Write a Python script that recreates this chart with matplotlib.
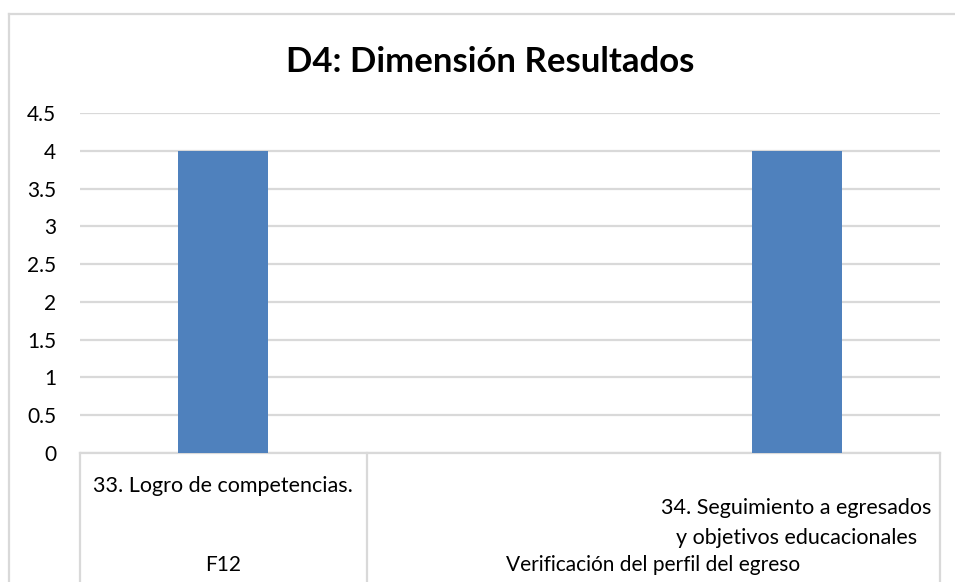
import numpy as np
import matplotlib
matplotlib.use("Agg")
import matplotlib.pyplot as plt
from matplotlib.transforms import blended_transform_factory

plt.rcParams['font.family'] = ['Lato', 'DejaVu Sans']

# data
items = ["33. Logro de competencias.", "", "34. Seguimiento a egresados\ny objetivos educacionales"]
values = [4, np.nan, 4]
groups = ["F12", "Verificación del perfil del egreso"]
group_span = [(0, 1), (1, 3)]  # category index ranges [start, end)
yticks = [0, 0.5, 1, 1.5, 2, 2.5, 3, 3.5, 4, 4.5]

grid_c = '#D9D9D9'
bar_c = '#4F81BD'

fig = plt.figure(figsize=(9.55, 5.82), dpi=100)
ax = fig.add_axes([80/955, 1-453/582, 860/955, 340/582])

x = np.arange(len(items))
ax.bar(x, values, width=0.314, color=bar_c, zorder=3)
ax.set_xlim(-0.5, len(items) - 0.5)
ax.set_ylim(0, 4.5)
ax.set_yticks(yticks)
ax.set_yticklabels([f"{t:g}" for t in yticks], fontsize=15)
ax.tick_params(axis='y', length=0, pad=17)
ax.set_xticks([])
ax.yaxis.grid(True, color=grid_c, linewidth=1.6, zorder=0)
for s in ['top', 'right', 'left']:
    ax.spines[s].set_visible(False)
ax.spines['bottom'].set_color(grid_c)
ax.spines['bottom'].set_linewidth(1.6)

# multi-level category axis
tr = blended_transform_factory(ax.transData, fig.transFigure)
y0 = 1 - 453/582
edges = sorted(set([g[0] for g in group_span] + [group_span[-1][1]]))
for e in edges:
    ax.plot([e - 0.5, e - 0.5], [y0, 0], transform=tr, color=grid_c,
            linewidth=1.6, clip_on=False)

for i, lab in enumerate(items):
    if not lab:
        continue
    yy = 1 - 486/582 if '\n' not in lab else 1 - 523/582
    ax.text(i, yy, lab, transform=tr, ha='center', va='center',
            multialignment='center', fontsize=15.5, linespacing=1.65)

for g, (a, b) in zip(groups, group_span):
    ax.text((a + b - 1) / 2, 1 - 565/582, g, transform=tr, ha='center',
            va='center', fontsize=15)

fig.text(490/955, 1 - 62/582, "D4: Dimensión Resultados", ha='center',
         va='center', fontsize=25, fontweight='bold')

# chart border (top and left only visible)
fig.add_artist(plt.Line2D([9/955, 1], [1-14/582, 1-14/582], color=grid_c,
                          linewidth=1.6, transform=fig.transFigure))
fig.add_artist(plt.Line2D([9/955, 9/955], [1-14/582, 0], color=grid_c,
                          linewidth=1.6, transform=fig.transFigure))

fig.savefig("out.png", dpi=100)
